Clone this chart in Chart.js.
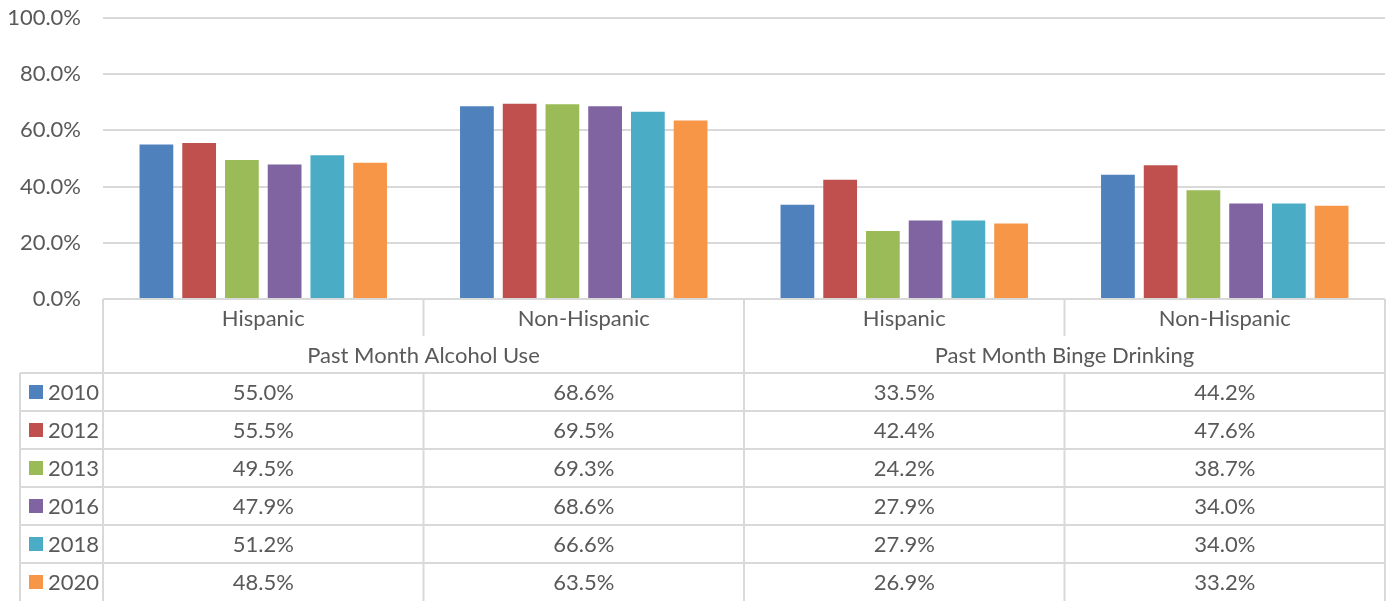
<!DOCTYPE html>
<html>
<head>
<meta charset="utf-8">
<script src="https://cdn.jsdelivr.net/npm/chart.js@4"></script>
<style>
  html, body { margin: 0; padding: 0; background: #fff; }
  #wrap { width: 1389px; height: 602px; }
</style>
</head>
<body>
<div id="wrap"><canvas id="chart" width="1389" height="602"></canvas></div>
<script>
  // --- data ---
  const categories = ["Hispanic", "Non-Hispanic", "Hispanic", "Non-Hispanic"];
  const groups = ["Past Month Alcohol Use", "Past Month Binge Drinking"];
  const years = ["2010", "2012", "2013", "2016", "2018", "2020"];
  const s2010 = [55.0, 68.6, 33.5, 44.2];
  const s2012 = [55.5, 69.5, 42.4, 47.6];
  const s2013 = [49.5, 69.3, 24.2, 38.7];
  const s2016 = [47.9, 68.6, 27.9, 34.0];
  const s2018 = [51.2, 66.6, 27.9, 34.0];
  const s2020 = [48.5, 63.5, 26.9, 33.2];
  const series = [s2010, s2012, s2013, s2016, s2018, s2020];
  const colors = ["#4F81BD", "#C0504D", "#9BBB59", "#8064A2", "#4BACC6", "#F79646"];

  const FONT = "Lato, 'Open Sans', sans-serif";
  const FSIZE = 22;
  const TXT = "#595959";
  const LINE = "#d9d9d9";

  // data table under the plot, laid out from the x scale
  const dataTable = {
    id: "dataTable",
    afterDraw(chart) {
      const ctx = chart.ctx;
      const area = chart.chartArea;
      const x = chart.scales.x;
      const half = (x.getPixelForValue(1) - x.getPixelForValue(0)) / 2;
      const edges = categories.map((c, i) => x.getPixelForValue(i) - half);
      edges.push(area.right);

      const top = area.bottom;
      const catRowH = 37, grpRowH = 37, rowH = 38;
      const dataTop = top + catRowH + grpRowH;
      const bottom = dataTop + rowH * years.length;
      const legendLeft = 20;

      ctx.save();
      ctx.strokeStyle = LINE;
      ctx.lineWidth = 2;
      const line = (x1, y1, x2, y2) => {
        ctx.beginPath(); ctx.moveTo(x1, y1); ctx.lineTo(x2, y2); ctx.stroke();
      };

      // horizontal lines (bottom edge falls outside the picture)
      line(area.left, top, area.right, top);
      for (let r = 0; r < years.length; r++) {
        const y = dataTop + r * rowH;
        line(legendLeft, y, area.right, y);
      }
      // vertical lines
      line(legendLeft, dataTop, legendLeft, bottom);
      edges.forEach((ex, i) => {
        if (i % 2 === 0) {
          line(ex, top, ex, bottom);
        } else {
          line(ex, top, ex, top + catRowH);
          line(ex, dataTop, ex, bottom);
        }
      });

      ctx.fillStyle = TXT;
      ctx.font = FSIZE + "px " + FONT;
      ctx.textAlign = "center";
      ctx.textBaseline = "middle";

      categories.forEach((c, i) => {
        ctx.fillText(c, (edges[i] + edges[i + 1]) / 2, top + catRowH / 2 + 1);
      });
      groups.forEach((g, i) => {
        ctx.fillText(g, (edges[i * 2] + edges[i * 2 + 2]) / 2, top + catRowH + grpRowH / 2 + 1);
      });

      years.forEach((yr, r) => {
        const cy = dataTop + r * rowH + rowH / 2 + 1;
        series[r].forEach((v, i) => {
          ctx.textAlign = "center";
          ctx.fillText(v.toFixed(1) + "%", (edges[i] + edges[i + 1]) / 2, cy);
        });
        ctx.fillStyle = colors[r];
        ctx.fillRect(29, cy - 8, 14, 14);
        ctx.fillStyle = TXT;
        ctx.textAlign = "left";
        ctx.fillText(yr, 48, cy);
      });
      ctx.restore();
    }
  };

  new Chart(document.getElementById("chart"), {
    type: "bar",
    data: {
      labels: categories,
      datasets: years.map((yr, i) => ({
        label: yr,
        data: series[i],
        backgroundColor: colors[i],
        borderWidth: 0
      }))
    },
    options: {
      responsive: false,
      animation: false,
      datasets: { bar: { categoryPercentage: 0.8, barPercentage: 0.79 } },
      layout: { padding: { top: 18, bottom: 303, right: 4, left: 0 } },
      plugins: { legend: { display: false }, tooltip: { enabled: false } },
      scales: {
        x: { display: false },
        y: {
          min: 0, max: 100,
          ticks: {
            stepSize: 20,
            padding: 22,
            color: TXT,
            font: { family: FONT, size: FSIZE },
            callback: v => v.toFixed(1) + "%"
          },
          grid: { color: LINE, lineWidth: 2, drawTicks: false },
          border: { display: false },
          afterFit(scale) {
            scale.width = 103;
            scale.paddingTop = 0;
            scale.paddingBottom = 0;
          }
        }
      }
    },
    plugins: [dataTable]
  });
</script>
</body>
</html>
